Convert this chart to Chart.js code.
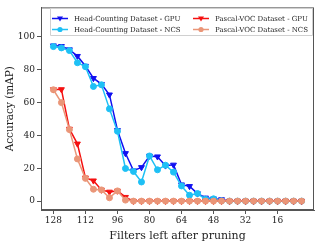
<!DOCTYPE html>
<html>
<head>
<meta charset="utf-8">
<script src="https://cdn.jsdelivr.net/npm/chart.js@4.4.1/dist/chart.umd.min.js"></script>
<style>
  html, body { margin: 0; padding: 0; background: #fff; }
  #wrap { width: 324px; height: 243px; }
</style>
</head>
<body>
<div id="wrap"><canvas id="chart" width="324" height="243"></canvas></div>
<script>
// filters left after pruning, 128 down to 4
const filters = [128, 124, 120, 116, 112, 108, 104, 100, 96, 92, 88, 84, 80, 76, 72, 68,
                 64, 60, 56, 52, 48, 44, 40, 36, 32, 28, 24, 20, 16, 12, 8, 4];

const headGpu = [94.4, 94, 92, 88, 82, 74.6, 71, 64.6, 43, 29, 18.5, 20.5, 27.4, 27, 21.5, 22,
                 10, 9, 4.6, 2, 1.5, 1, 0, 0, 0, 0, 0, 0, 0, 0, 0, 0];
const headNcs = [93.8, 93, 91.4, 84, 81.6, 69.6, 70.6, 56, 42.4, 19.8, 18, 11.6, 27.4, 19, 21.8, 17.6,
                 9.2, 3.6, 4.6, 1.2, 1.4, 0.2, 0, 0, 0, 0, 0, 0, 0, 0, 0, 0];
const vocGpu = [67.8, 67.8, 43.8, 34.8, 14.2, 12.4, 6.8, 5.6, 6.2, 2.4, 0, 0, 0, 0, 0, 0,
                0, 0, 0, 0, 0, 0, 0, 0, 0, 0, 0, 0, 0, 0, 0, 0];
const vocNcs = [67.6, 59.8, 43.4, 25.6, 13.8, 7.2, 6.8, 2, 6.2, 0.6, 0, 0, 0, 0, 0, 0,
                0, 0, 0, 0, 0, 0, 0, 0, 0, 0, 0, 0, 0, 0, 0, 0];

const xTicks = [128, 112, 96, 80, 64, 48, 32, 16];
const yTicks = [0, 20, 40, 60, 80, 100];

const FONT = '"DejaVu Serif", serif';

const toPts = vals => vals.map((v, i) => ({ x: filters[i], y: v }));

function series(label, vals, color, style, order) {
  return {
    label: label,
    data: toPts(vals),
    borderColor: color,
    backgroundColor: color,
    borderWidth: 1.5,
    pointStyle: style,
    pointRotation: style === 'triangle' ? 180 : 0,
    pointRadius: style === 'triangle' ? 3.4 : 3,
    pointBorderWidth: 1,
    order: order
  };
}

const datasets = [
  series('Head-Counting Dataset - GPU', headGpu, '#1010f0', 'triangle', 4),
  series('Head-Counting Dataset - NCS', headNcs, '#1ec0f5', 'circle', 3),
  series('Pascal-VOC Dataset - GPU', vocGpu, '#f51010', 'triangle', 2),
  series('Pascal-VOC Dataset - NCS', vocNcs, '#ea9678', 'circle', 1)
];

// frame around the plot plus legend inside the top of it
const framePlugin = {
  id: 'frame',
  afterDraw(chart) {
    const { ctx, chartArea: a } = chart;
    ctx.save();
    ctx.strokeStyle = '#555';
    ctx.lineWidth = 1;
    ctx.strokeRect(a.left + 0.5, a.top + 0.5, a.right - a.left - 1, a.bottom - a.top - 1);

    // legend box
    const bx = 50.5, by = 8.5, bw = 262, bh = 27;
    ctx.fillStyle = 'rgba(255,255,255,0.85)';
    ctx.strokeStyle = '#d0d0d0';
    ctx.beginPath();
    ctx.rect(bx, by, bw, bh);
    ctx.fill();
    ctx.stroke();

    const cols = [52, 193];
    const rows = [18.5, 29.5];
    ctx.font = '7px ' + FONT;
    ctx.textBaseline = 'middle';
    datasets.forEach((d, i) => {
      const x = cols[Math.floor(i / 2)], y = rows[i % 2];
      ctx.strokeStyle = d.borderColor;
      ctx.lineWidth = 1.5;
      ctx.beginPath();
      ctx.moveTo(x, y);
      ctx.lineTo(x + 16, y);
      ctx.stroke();
      ctx.fillStyle = d.borderColor;
      const cx = x + 8;
      ctx.beginPath();
      if (d.pointStyle === 'triangle') {
        ctx.moveTo(cx - 3, y - 2);
        ctx.lineTo(cx + 3, y - 2);
        ctx.lineTo(cx, y + 3);
        ctx.closePath();
      } else {
        ctx.arc(cx, y, 2.6, 0, Math.PI * 2);
      }
      ctx.fill();
      ctx.fillStyle = '#222';
      ctx.fillText(d.label, x + 22, y + 0.5);
    });
    ctx.restore();
  }
};

new Chart(document.getElementById('chart'), {
  type: 'line',
  data: { datasets: datasets },
  options: {
    responsive: false,
    animation: false,
    layout: { padding: { left: 4, right: 10, top: 5, bottom: 0 } },
    plugins: { legend: { display: false }, tooltip: { enabled: false } },
    scales: {
      x: {
        type: 'linear',
        reverse: true,
        min: -2.2,
        max: 134.2,
        afterBuildTicks: s => { s.ticks = xTicks.map(v => ({ value: v })); },
        afterFit: s => { s.height = 33; },
        grid: { drawOnChartArea: false, drawTicks: true, tickLength: 4, color: '#555' },
        border: { display: true, color: '#555' },
        ticks: { color: '#222', font: { family: FONT, size: 9 }, padding: 1, maxRotation: 0 },
        title: { display: true, text: 'Filters left after pruning', color: '#222',
                 font: { family: FONT, size: 11 }, padding: { top: 0, bottom: 0 } }
      },
      y: {
        min: -5.4,
        max: 117.6,
        afterBuildTicks: s => { s.ticks = yTicks.map(v => ({ value: v })); },
        afterFit: s => { s.width = 37; },
        grid: { drawOnChartArea: false, drawTicks: true, tickLength: 4, color: '#555' },
        border: { display: true, color: '#555' },
        ticks: { color: '#222', font: { family: FONT, size: 9 }, padding: 2 },
        title: { display: true, text: 'Accuracy (mAP)', color: '#222',
                 font: { family: FONT, size: 10.5 }, padding: { top: 0, bottom: 2 } }
      }
    }
  },
  plugins: [framePlugin]
});
</script>
</body>
</html>
